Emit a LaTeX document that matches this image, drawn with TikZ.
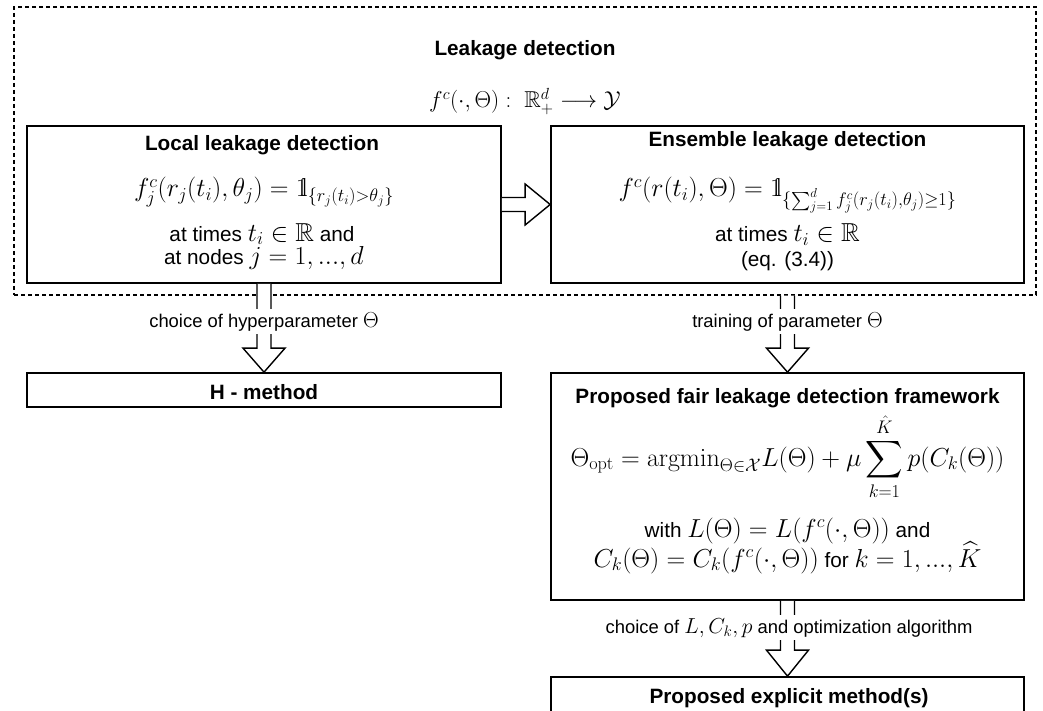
\RequirePackage{fix-cm}
\documentclass[tikz,border=0pt]{standalone}
\usepackage{amsmath,amssymb}
\usepackage[no-math]{fontspec}
\setmainfont{Liberation Sans}
\usetikzlibrary{calc}
\DeclareMathSizes{20.74}{26}{18.2}{13}
\DeclareMathSizes{18.4}{21.7}{15.2}{10.9}
\DeclareMathSizes{23}{23}{16.1}{11.5}
\newcommand{\indic}{\mathrm{1\mkern-4.5mu l}}
\tikzset{
  box/.style={draw, line width=1.7pt, inner sep=0pt},
  dbox/.style={draw, line width=1.2pt, dash pattern=on 4pt off 3pt, inner sep=0pt},
  blockarrow/.style={draw, line width=1.4pt, fill=white, line join=miter},
  txt/.style={anchor=base, inner sep=0pt, font=\fontsize{20.74}{24}\selectfont},
  ttl/.style={anchor=base, inner sep=0pt, font=\fontsize{20.74}{24}\selectfont\bfseries},
  lbl/.style={anchor=base, fill=white, inner xsep=2pt, inner ysep=3pt, font=\fontsize{18.4}{22}\selectfont}
}
\begin{document}
\begin{tikzpicture}[x=1pt, y=-1pt]
\useasboundingbox (0,0) rectangle (1043,711);
% boxes
\node[dbox, minimum width=1022pt, minimum height=288pt] (outer) at (525,151) {};
\node[box, minimum width=474pt, minimum height=157pt] (local) at (264,204.5) {};
\node[box, minimum width=473pt, minimum height=157pt] (ens) at (787.5,204.5) {};
\node[box, minimum width=474pt, minimum height=34pt] (hm) at (264,390) {};
\node[box, minimum width=473pt, minimum height=227pt] (frame) at (787.5,486.5) {};
\node[box, minimum width=473pt, minimum height=68pt] (expl) at (787.5,711) {};
% texts
\node[ttl] (t0) at (525,56) {Leakage detection};
\node[txt, font=\fontsize{23}{27}\selectfont] (f0) at (525,108) {$f^c(\cdot,\Theta):\ \mathbb{R}^d_+\longrightarrow\mathcal{Y}$};
\node[ttl] (t1) at (262,151) {Local leakage detection};
\node[txt] (f1) at (264,197) {$f_j^c(r_j(t_i),\theta_j)=\indic_{\{r_j(t_i)>\theta_j\}}$};
\node[txt] (a1) at (262,241) {at times $t_i\in\mathbb{R}$ and};
\node[txt] (b1) at (264,264) {at nodes $j=1,...,d$};
\node[ttl] (t2) at (787.5,147) {Ensemble leakage detection};
\node[txt] (f2) at (787.5,197) {$f^c(r(t_i),\Theta)=\indic_{\{\sum_{j=1}^d f_j^c(r_j(t_i),\theta_j)\geq 1\}}$};
\node[txt] (a2) at (787.5,242) {at times $t_i\in\mathbb{R}$};
\node[txt] (b2) at (787.5,266) {(eq. (3.4))};
\node[ttl] (t3) at (264,399) {H - method};
\node[ttl] (t4) at (787.5,403) {Proposed fair leakage detection framework};
\node[txt] (f4) at (787.5,466) {$\displaystyle\Theta_{\mathrm{opt}}=\mathrm{argmin}_{\Theta\in\mathcal{X}}L(\Theta)+\mu\sum_{k=1}^{\hat{K}}p(C_k(\Theta))$};
\node[txt] (a4) at (787.5,537) {with $L(\Theta)=L(f^c(\cdot,\Theta))$ and};
\node[txt] (b4) at (787.5,567) {$C_k(\Theta)=C_k(f^c(\cdot,\Theta))$ for $k=1,...,\widehat{K}$};
\node[ttl] (t5) at (789,703) {Proposed explicit method(s)};
% arrows
\draw[blockarrow] ($(local.east)+(0,-7)$) -- ($(ens.west)+(-25,-7)$) -- ($(ens.west)+(-25,-20.5)$) -- (ens.west)
  -- ($(ens.west)+(-25,20.5)$) -- ($(ens.west)+(-25,7)$) -- ($(local.east)+(0,7)$);
\draw[blockarrow] ($(local.south)+(-7,0)$) -- ($(hm.north)+(-7,-24)$) -- ($(hm.north)+(-21,-24)$) -- (hm.north)
  -- ($(hm.north)+(21,-24)$) -- ($(hm.north)+(7,-24)$) -- ($(local.south)+(7,0)$);
\coordinate (es) at (ens.south |- outer.south);
\draw[blockarrow] ($(es)+(-7,0)$) -- ($(frame.north)+(-7,-24)$) -- ($(frame.north)+(-21,-24)$) -- (frame.north)
  -- ($(frame.north)+(21,-24)$) -- ($(frame.north)+(7,-24)$) -- ($(es)+(7,0)$);
\draw[blockarrow] ($(frame.south)+(-7,0)$) -- ($(expl.north)+(-7,-26)$) -- ($(expl.north)+(-21,-26)$) -- (expl.north)
  -- ($(expl.north)+(21,-26)$) -- ($(expl.north)+(7,-26)$) -- ($(frame.south)+(7,0)$);
% labels
\node[lbl] (l1) at (264,327) {choice of hyperparameter $\Theta$};
\node[lbl] (l2) at (787.5,327) {training of parameter $\Theta$};
\node[lbl] (l3) at (789,633) {choice of $L, C_k, p$ and optimization algorithm};
\end{tikzpicture}
\end{document}
